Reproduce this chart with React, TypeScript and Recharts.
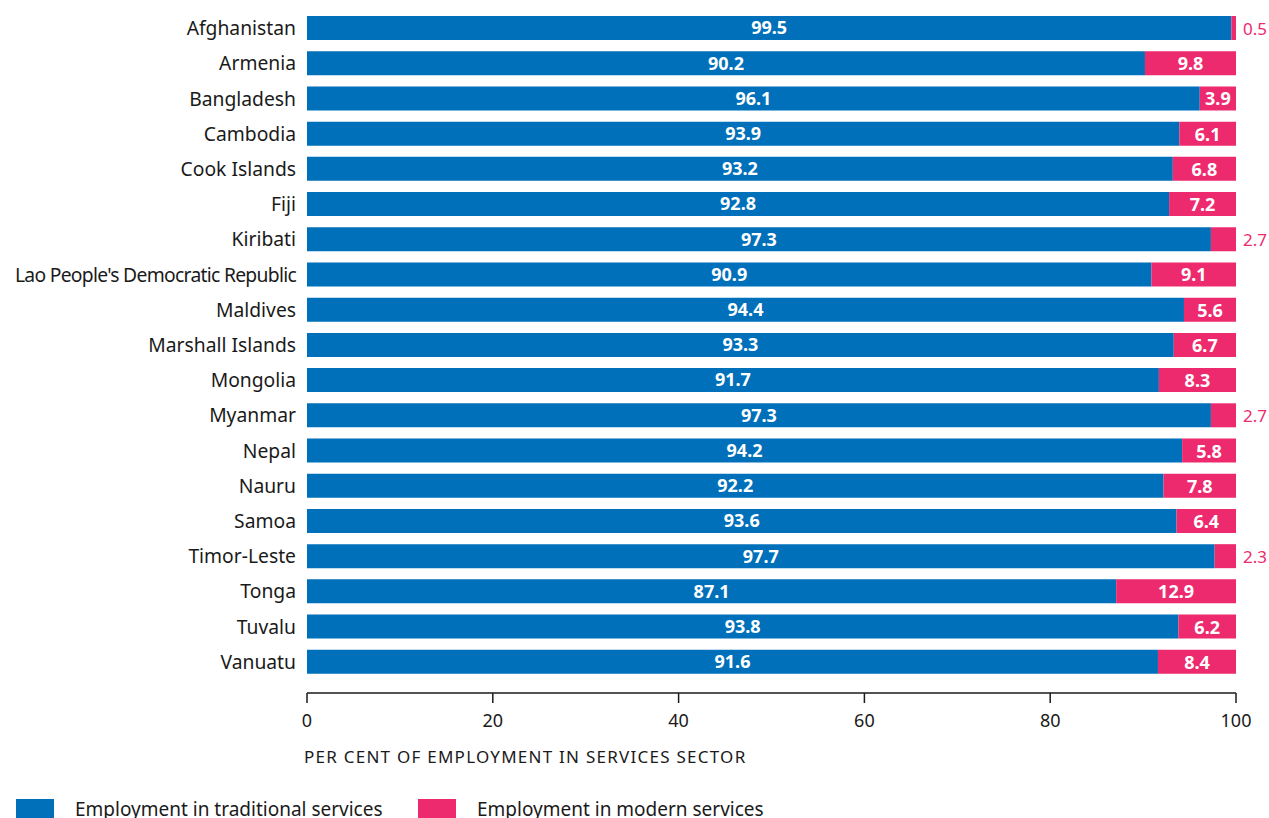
import { Bar, BarChart, LabelList, Legend, XAxis, YAxis } from "recharts"

const FONT = "'Noto Sans', sans-serif"
const TRADITIONAL = "#0070BA"
const MODERN = "#EE2A6F"
const INK = "#1a1a1a"

const countries = [
  "Afghanistan",
  "Armenia",
  "Bangladesh",
  "Cambodia",
  "Cook Islands",
  "Fiji",
  "Kiribati",
  "Lao People's Democratic Republic",
  "Maldives",
  "Marshall Islands",
  "Mongolia",
  "Myanmar",
  "Nepal",
  "Nauru",
  "Samoa",
  "Timor-Leste",
  "Tonga",
  "Tuvalu",
  "Vanuatu",
]
const traditionalShare = [
  99.5, 90.2, 96.1, 93.9, 93.2, 92.8, 97.3, 90.9, 94.4, 93.3, 91.7, 97.3, 94.2, 92.2, 93.6, 97.7, 87.1,
  93.8, 91.6,
]
const modernShare = [
  0.5, 9.8, 3.9, 6.1, 6.8, 7.2, 2.7, 9.1, 5.6, 6.7, 8.3, 2.7, 5.8, 7.8, 6.4, 2.3, 12.9, 6.2, 8.4,
]
const xTicks = [0, 20, 40, 60, 80, 100]

const data = countries.map((name, i) => ({
  name,
  traditional: traditionalShare[i],
  modern: modernShare[i],
}))

function CountryTick({ x, y, payload }: any) {
  const long = payload.value.length > 20
  return (
    <text
      x={x}
      y={y}
      textAnchor="end"
      dominantBaseline="central"
      fill={INK}
      fontFamily={FONT}
      fontSize={19.3}
      letterSpacing={long ? -0.7 : 0}
    >
      {payload.value}
    </text>
  )
}

function ModernLabel({ x, y, width, height, value }: any) {
  const outside = value < 3
  return (
    <text
      x={outside ? x + width + 7 : x + width / 2}
      y={y + height / 2}
      textAnchor={outside ? "start" : "middle"}
      dominantBaseline="central"
      fill={outside ? MODERN : "#fff"}
      fontFamily={FONT}
      fontSize={outside ? 17 : 18}
      fontWeight={outside ? 400 : 700}
    >
      {value.toFixed(1)}
    </text>
  )
}

function AxisTitle({ viewBox }: any) {
  return (
    <text
      x={viewBox.x - 3}
      y={viewBox.y + 63}
      dominantBaseline="central"
      fill={INK}
      fontFamily={FONT}
      fontSize={17}
      letterSpacing={1.25}
    >
      PER CENT OF EMPLOYMENT IN SERVICES SECTOR
    </text>
  )
}

function LegendContent() {
  const items = [
    { label: "Employment in traditional services", color: TRADITIONAL, left: 16 },
    { label: "Employment in modern services", color: MODERN, left: 418 },
  ]
  return (
    <div style={{ position: "relative", height: 21 }}>
      {items.map((it) => (
        <div key={it.label} style={{ position: "absolute", left: it.left, top: 2, display: "flex" }}>
          <span style={{ width: 38, height: 22, background: it.color, display: "inline-block" }} />
          <span
            style={{
              marginLeft: 21,
              marginTop: -3,
              fontFamily: FONT,
              fontSize: 19,
              color: INK,
              lineHeight: "26px",
              whiteSpace: "nowrap",
            }}
          >
            {it.label}
          </span>
        </div>
      ))}
    </div>
  )
}

export default function App() {
  return (
    <div style={{ position: "absolute", left: 0, top: 0, width: 1269, height: 818, overflow: "hidden", background: "#fff" }}>
      <BarChart
        width={1269}
        height={818}
        data={data}
        layout="vertical"
        margin={{ top: 10, right: 33, bottom: 0, left: 0 }}
      >
        <XAxis
          type="number"
          domain={[0, 100]}
          ticks={xTicks}
          height={104}
          axisLine={{ stroke: INK, strokeWidth: 1.5 }}
          tickLine={{ stroke: INK, strokeWidth: 1.5 }}
          tickSize={10}
          tickMargin={11}
          tick={{ fill: INK, fontFamily: FONT, fontSize: 18 }}
          label={<AxisTitle />}
        />
        <YAxis
          type="category"
          dataKey="name"
          width={307}
          axisLine={false}
          tickLine={false}
          tickSize={0}
          tickMargin={11}
          interval={0}
          padding={{ top: 0, bottom: 14 }}
          tick={<CountryTick />}
        />
        <Legend
          verticalAlign="bottom"
          align="left"
          content={<LegendContent />}
          wrapperStyle={{ left: 0, width: 1269, height: 21 }}
        />
        <Bar dataKey="traditional" stackId="s" fill={TRADITIONAL} barSize={24} isAnimationActive={false}>
          <LabelList
            dataKey="traditional"
            position="center"
            fill="#fff"
            fontFamily={FONT}
            fontSize={18}
            fontWeight={700}
            formatter={(v: any) => Number(v).toFixed(1)}
          />
        </Bar>
        <Bar dataKey="modern" stackId="s" fill={MODERN} barSize={24} isAnimationActive={false}>
          <LabelList dataKey="modern" content={<ModernLabel />} />
        </Bar>
      </BarChart>
    </div>
  )
}
